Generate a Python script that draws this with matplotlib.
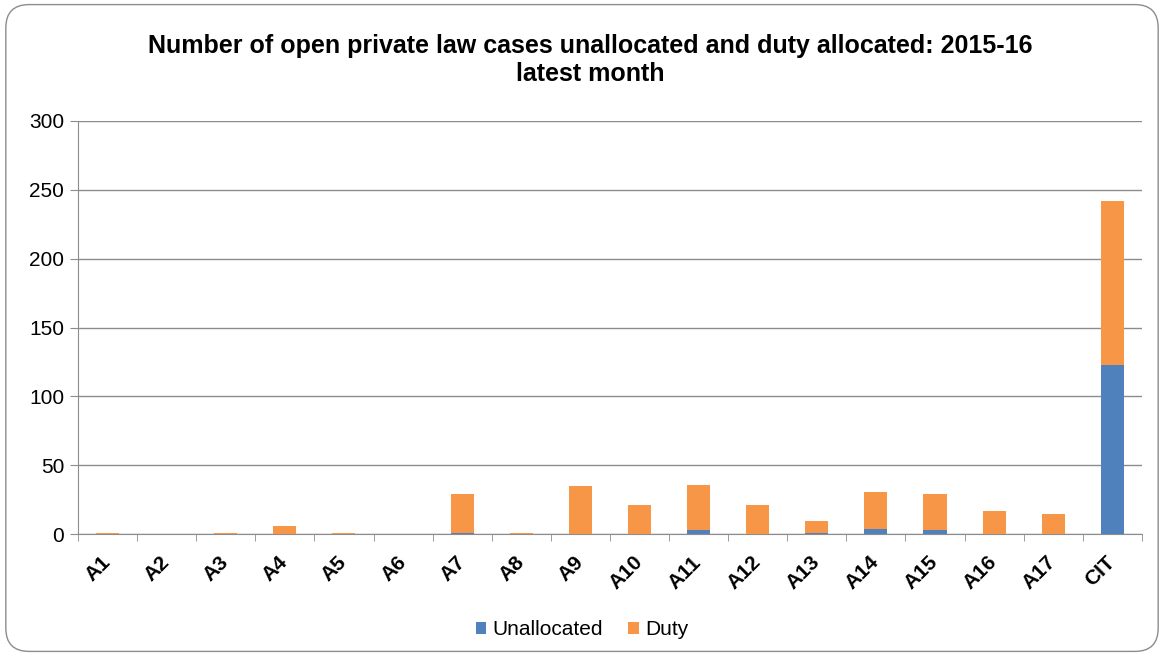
import numpy as np
import matplotlib.pyplot as plt
import matplotlib.transforms as mtransforms
from matplotlib.patches import FancyBboxPatch

# Data
areas = ['A1', 'A2', 'A3', 'A4', 'A5', 'A6', 'A7', 'A8', 'A9', 'A10',
         'A11', 'A12', 'A13', 'A14', 'A15', 'A16', 'A17', 'CIT']
unallocated = [0, 0, 0, 0, 0, 0, 1, 0, 0, 0, 3, 0, 1, 4, 3, 0, 0, 123]
duty = [1, 0, 1, 6, 1, 0, 28, 1, 35, 21, 33, 21, 9, 27, 26, 17, 15, 119]

plt.rcParams['font.family'] = ['Liberation Sans', 'DejaVu Sans']

fig = plt.figure(figsize=(11.64, 6.56), dpi=100)
ax = fig.add_axes([0.067, 0.1855, 0.914, 0.6305])

# rounded border round the whole chart
frame = FancyBboxPatch((0.005, 0.007), 0.99, 0.986, boxstyle='round,pad=0,rounding_size=0.02',
                       transform=fig.transFigure, fill=False, edgecolor='#8c8c8c', linewidth=1.0,
                       mutation_aspect=1164 / 656)
fig.patches.append(frame)

x = np.arange(len(areas))
ax.bar(x, unallocated, width=0.39, color='#4F81BD', label='Unallocated', zorder=3)
ax.bar(x, duty, width=0.39, bottom=unallocated, color='#F79646', label='Duty', zorder=3)

ax.set_xlim(-0.5, len(areas) - 0.5)
ax.set_ylim(0, 300)
ax.set_yticks(range(0, 301, 50))
ax.yaxis.grid(True, color='#8c8c8c', linewidth=1.0, zorder=0)

ax.set_xticks(x)
ax.set_xticklabels(areas, rotation=45, ha='right', va='center', rotation_mode='anchor',
                   fontsize=15, fontweight='bold')
# shift labels so the end of each word sits under its bar
offset = mtransforms.ScaledTranslation(7 / 100, 0, fig.dpi_scale_trans)
for lab in ax.get_xticklabels():
    lab.set_transform(lab.get_transform() + offset)
ax.set_xticks(np.arange(-0.5, len(areas), 1), minor=True)
ax.tick_params(axis='x', which='major', length=0, pad=18)
ax.tick_params(axis='x', which='minor', length=5, color='#8c8c8c')
ax.tick_params(axis='y', length=6, color='#8c8c8c', labelsize=15, pad=4)

for s in ['top', 'right']:
    ax.spines[s].set_visible(False)
for s in ['left', 'bottom']:
    ax.spines[s].set_color('#8c8c8c')

fig.text(0.507, 0.9085, 'Number of open private law cases unallocated and duty allocated: 2015-16\nlatest month',
         ha='center', va='center', fontsize=18, fontweight='bold', linespacing=1.2)

fig.legend(loc='center', bbox_to_anchor=(0.5, 0.04), ncol=2, frameon=False, fontsize=15,
           handlelength=0.5, handleheight=0.5, handletextpad=0.3, columnspacing=1.2)

fig.savefig('out.png', dpi=100)
